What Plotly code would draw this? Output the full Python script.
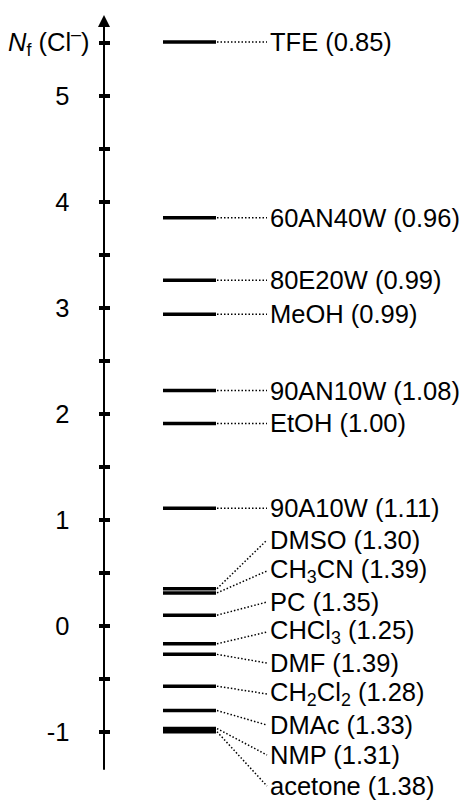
import plotly.graph_objects as go

# Nucleofugality of chloride in various solvents, with s_f in brackets
solvents = ["TFE", "60AN40W", "80E20W", "MeOH", "90AN10W", "EtOH", "90A10W",
            "DMSO", "CH<sub>3</sub>CN", "PC", "CHCl<sub>3</sub>", "DMF",
            "CH<sub>2</sub>Cl<sub>2</sub>", "DMAc", "NMP", "acetone"]
nf_values = [5.51, 3.85, 3.26, 2.94, 2.22, 1.91, 1.11,
             0.35, 0.31, 0.10, -0.17, -0.27, -0.57, -0.80, -0.97, -1.00]
sf_values = [0.85, 0.96, 0.99, 0.99, 1.08, 1.00, 1.11,
             1.30, 1.39, 1.35, 1.25, 1.39, 1.28, 1.33, 1.31, 1.38]
tick_values = [-1, 0, 1, 2, 3, 4, 5]
tick_labels = ["-1", "0", "1", "2", "3", "4", "5"]
minor_tick_values = [-0.5, 0.5, 1.5, 2.5, 3.5, 4.5, 5.5]

# label placement (same level as the bar for the upper group, spread out below)
label_y = nf_values[:7] + [0.809, 0.517, 0.224, -0.059, -0.352, -0.644,
                           -0.937, -1.220, -1.513]

FONT = "Liberation Sans, Arial, sans-serif"
AXIS_X = 104
TICK_LEN = 11
BAR_X0, BAR_X1 = 163, 216
LEAD_X0, LEAD_X1 = 217, 267
LABEL_X = 268

fig = go.Figure()

# energy-level style bars
bx, by = [], []
for v in nf_values:
    bx += [BAR_X0, BAR_X1, None]
    by += [v, v, None]
fig.add_trace(go.Scatter(x=bx, y=by, mode="lines",
                         line=dict(color="black", width=3.5),
                         hoverinfo="skip", showlegend=False))

# dotted leader lines
lx, ly = [], []
for v, t in zip(nf_values, label_y):
    lx += [LEAD_X0, LEAD_X1, None]
    ly += [v, t, None]
fig.add_trace(go.Scatter(x=lx, y=ly, mode="lines",
                         line=dict(color="black", width=1.5, dash="1.5px,2px"),
                         hoverinfo="skip", showlegend=False))

# axis line with an arrowhead on top
fig.add_trace(go.Scatter(x=[AXIS_X, AXIS_X], y=[-1.36, 5.68], mode="lines",
                         line=dict(color="black", width=2),
                         hoverinfo="skip", showlegend=False))
fig.add_trace(go.Scatter(x=[AXIS_X], y=[5.765], mode="markers",
                         marker=dict(symbol="arrow-up", size=12,
                                     color="black", line=dict(width=0)),
                         hoverinfo="skip", showlegend=False))

# solvent labels
for name, sf, t in zip(solvents, sf_values, label_y):
    fig.add_annotation(x=LABEL_X, y=t, xref="x", yref="y", xanchor="left",
                       yanchor="middle", showarrow=False,
                       text=f"{name} ({sf:.2f})",
                       font=dict(family=FONT, size=25.5, color="black"))

# axis title
fig.add_annotation(x=92, y=5.51, xref="x", yref="y", xanchor="right",
                   yanchor="middle", showarrow=False,
                   text="<i>N</i><sub>f</sub> (Cl<sup>–</sup>)",
                   font=dict(family=FONT, size=25.5, color="black"))

# ticks cross the axis line: the axis sits half a tick to the right of it
tick_style = dict(ticklen=TICK_LEN, tickwidth=3.5, tickcolor="black",
                  ticks="outside")
fig.update_layout(
    width=468, height=808,
    margin=dict(l=0, r=0, t=0, b=0),
    paper_bgcolor="white", plot_bgcolor="white",
    xaxis=dict(range=[0, 468], visible=False),
    yaxis=dict(range=[-1.720, 5.906], tickvals=tick_values,
               ticktext=tick_labels, showgrid=False, zeroline=False,
               showline=False, anchor="free",
               position=(AXIS_X + TICK_LEN / 2) / 468,
               minor=dict(tickvals=minor_tick_values, showgrid=False,
                          **tick_style),
               ticklabelstandoff=24,
               tickfont=dict(family=FONT, size=25.5, color="black"),
               **tick_style),
)

fig.write_html("out.html")
